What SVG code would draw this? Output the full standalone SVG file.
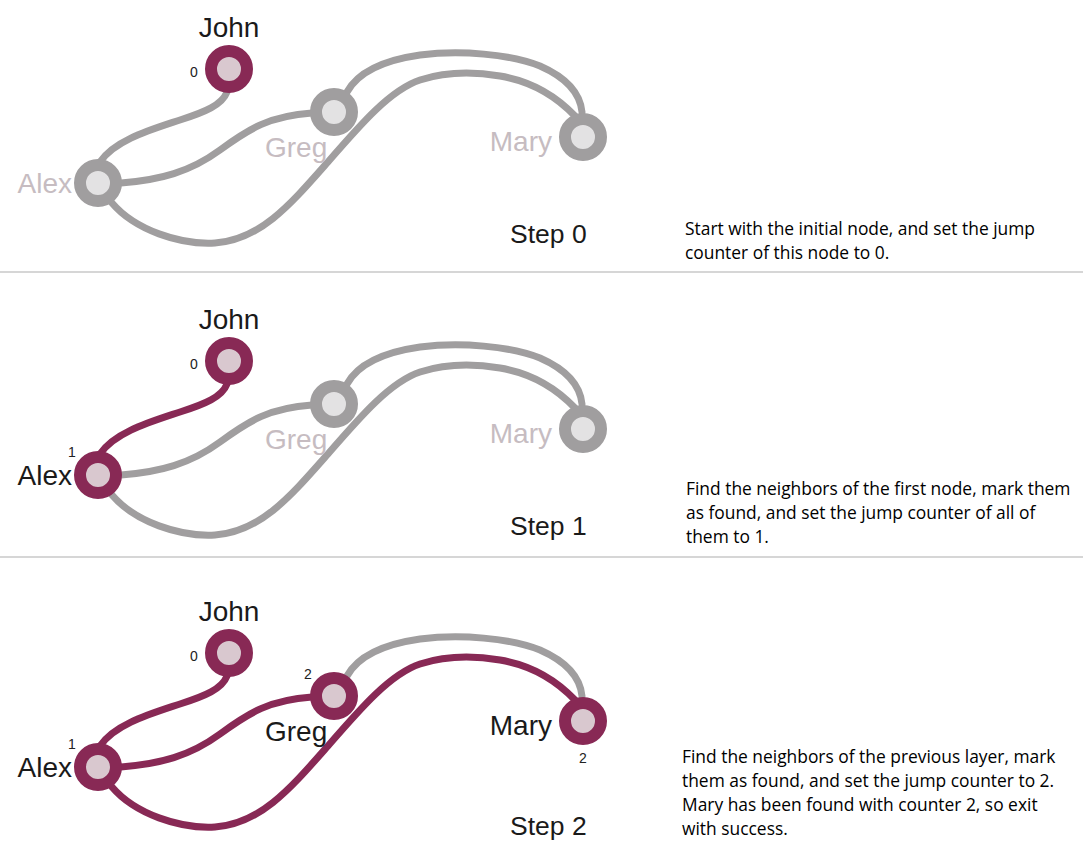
<svg xmlns="http://www.w3.org/2000/svg" width="1083" height="849" viewBox="0 0 1083 849">
<defs>
<style>
.e{fill:none;stroke-width:7;stroke-linecap:round}
.eg{stroke:#a09e9f}
.em{stroke:#882955}
.ng{fill:#e3e2e3;stroke:#a09e9f;stroke-width:12}
.nm{fill:#d9c8cf;stroke:#882955;stroke-width:12}
.lbl{font-family:"Liberation Sans",Arial,sans-serif;font-size:28px}
.ld{fill:#1a1a1a}
.lg{fill:#c6bcc1}
.cnt{font-family:"Liberation Sans",Arial,sans-serif;font-size:14px;fill:#222}
.step{font-family:"Liberation Sans",Arial,sans-serif;font-size:26.5px;fill:#1a1a1a}
.desc{font-family:"Open Sans","Noto Sans",sans-serif;font-size:17.4px;fill:#000}
.sep{stroke:#c8c8c8;stroke-width:1.5}
</style>
</defs>
<rect width="1083" height="849" fill="#ffffff"/>
<line class="sep" x1="0" y1="272" x2="1083" y2="272"/>
<line class="sep" x1="0" y1="557" x2="1083" y2="557"/>

<!-- Panel 0 -->
<g id="connectors-0">
<path class="e eg" d="M227,92 C222,105 205,112 180,120 C150,130 115,140 100,162"/>
<path class="e eg" d="M121,183 C160,180 190,172 220,150 C250,128 270,116 312,113"/>
<path class="e eg" d="M112,203 C135,230 180,245 215,243 C260,240 290,205 327,163 C360,125 390,90 420,80 C445,72 470,71 500,76 C530,81 555,95 575,116"/>
<path class="e eg" d="M347,92 C358,72 385,60 420,55 C460,50 510,54 540,66 C565,77 580,92 582,112"/>
</g>
<g id="john-0"><circle class="nm" cx="229" cy="69" r="18"/><text class="lbl ld" x="229" y="37" text-anchor="middle">John</text><text class="cnt" x="194" y="77" text-anchor="middle">0</text></g>
<g id="alex-0"><circle class="ng" cx="98" cy="183" r="18"/><text class="lbl lg" x="72" y="193" text-anchor="end">Alex</text></g>
<g id="greg-0"><circle class="ng" cx="334" cy="112" r="18"/><text class="lbl lg" x="265" y="157">Greg</text></g>
<g id="mary-0"><circle class="ng" cx="583" cy="137" r="18"/><text class="lbl lg" x="552" y="151" text-anchor="end">Mary</text></g>
<text class="step" x="510" y="243">Step 0</text>
<text class="desc" x="685" y="235">Start with the initial node, and set the jump</text>
<text class="desc" x="685" y="259">counter of this node to 0.</text>

<!-- Panel 1 -->
<g id="connectors-1" transform="translate(0,292)">
<path class="e em" d="M227,92 C222,105 205,112 180,120 C150,130 115,140 100,162"/>
<path class="e eg" d="M121,183 C160,180 190,172 220,150 C250,128 270,116 312,113"/>
<path class="e eg" d="M112,203 C135,230 180,245 215,243 C260,240 290,205 327,163 C360,125 390,90 420,80 C445,72 470,71 500,76 C530,81 555,95 575,116"/>
<path class="e eg" d="M347,92 C358,72 385,60 420,55 C460,50 510,54 540,66 C565,77 580,92 582,112"/>
</g>
<g id="john-1"><circle class="nm" cx="229" cy="361" r="18"/><text class="lbl ld" x="229" y="329" text-anchor="middle">John</text><text class="cnt" x="194" y="369" text-anchor="middle">0</text></g>
<g id="alex-1"><circle class="nm" cx="98" cy="475" r="18"/><text class="lbl ld" x="72" y="485" text-anchor="end">Alex</text><text class="cnt" x="72" y="457" text-anchor="middle">1</text></g>
<g id="greg-1"><circle class="ng" cx="334" cy="404" r="18"/><text class="lbl lg" x="265" y="449">Greg</text></g>
<g id="mary-1"><circle class="ng" cx="583" cy="429" r="18"/><text class="lbl lg" x="552" y="443" text-anchor="end">Mary</text></g>
<text class="step" x="510" y="535">Step 1</text>
<text class="desc" x="686" y="495">Find the neighbors of the first node, mark them</text>
<text class="desc" x="686" y="519">as found, and set the jump counter of all of</text>
<text class="desc" x="686" y="543">them to 1.</text>

<!-- Panel 2 -->
<g id="connectors-2" transform="translate(0,584)">
<path class="e em" d="M227,92 C222,105 205,112 180,120 C150,130 115,140 100,162"/>
<path class="e em" d="M121,183 C160,180 190,172 220,150 C250,128 270,116 312,113"/>
<path class="e em" d="M112,203 C135,230 180,245 215,243 C260,240 290,205 327,163 C360,125 390,90 420,80 C445,72 470,71 500,76 C530,81 555,95 575,116"/>
<path class="e eg" d="M347,92 C358,72 385,60 420,55 C460,50 510,54 540,66 C565,77 580,92 582,112"/>
</g>
<g id="john-2"><circle class="nm" cx="229" cy="653" r="18"/><text class="lbl ld" x="229" y="621" text-anchor="middle">John</text><text class="cnt" x="194" y="661" text-anchor="middle">0</text></g>
<g id="alex-2"><circle class="nm" cx="98" cy="767" r="18"/><text class="lbl ld" x="72" y="777" text-anchor="end">Alex</text><text class="cnt" x="72" y="749" text-anchor="middle">1</text></g>
<g id="greg-2"><circle class="nm" cx="334" cy="696" r="18"/><text class="lbl ld" x="265" y="741">Greg</text><text class="cnt" x="308" y="679" text-anchor="middle">2</text></g>
<g id="mary-2"><circle class="nm" cx="583" cy="721" r="18"/><text class="lbl ld" x="552" y="735" text-anchor="end">Mary</text><text class="cnt" x="583" y="763" text-anchor="middle">2</text></g>
<text class="step" x="510" y="835">Step 2</text>
<text class="desc" x="682" y="763">Find the neighbors of the previous layer, mark</text>
<text class="desc" x="682" y="787">them as found, and set the jump counter to 2.</text>
<text class="desc" x="682" y="811">Mary has been found with counter 2, so exit</text>
<text class="desc" x="682" y="835">with success.</text>
</svg>
